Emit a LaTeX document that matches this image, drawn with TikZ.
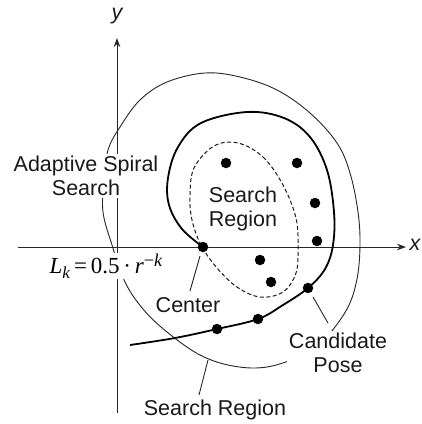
\documentclass[tikz,border=0pt]{standalone}
\usepackage{fontspec}
\setmainfont{Liberation Sans}
\newfontfamily\tnr{Liberation Serif}
\usetikzlibrary{arrows.meta}
\newcommand\lkformula{{\tnr\fontsize{23}{25}\selectfont\textit{L}\raisebox{-5pt}{\fontsize{17}{17}\selectfont\textit{k}}\,=\,0.5\,·\,\textit{r}\raisebox{7pt}{\fontsize{18}{18}\selectfont −\textit{k}}}}
\begin{document}
\begin{tikzpicture}[x=1pt,y=-1pt,
  thinline/.style={line width=0.9pt, black!85},
  axis/.style={line width=0.9pt, black!85, -{Stealth[length=9pt,width=6.5pt]}},
  spiral/.style={line width=1.8pt, black},
  dot/.style={circle, fill=black, inner sep=0pt, minimum size=10.5pt},
  lbl/.style={font=\fontsize{21.5}{24.5}\selectfont, align=center, inner sep=1.5pt, text=black!90},
  wlbl/.style={lbl, fill=white},
]
\useasboundingbox (0,0) rectangle (422,424);
% axes
\coordinate (xs) at (18,247); \coordinate (xe) at (406,247);
\coordinate (ys) at (117,413); \coordinate (ye) at (117,38);
\draw[axis] (xs) -- (xe);
\draw[axis] (ys) -- (ye);
\node[lbl, font=\fontsize{21.5}{25}\selectfont\itshape] (ylab) at (117,16) {y};
\node[lbl, font=\fontsize{21.5}{25}\selectfont\itshape] (xlab) at (415,245) {x};
% outer search region
\draw[thinline] plot[smooth cycle, tension=0.6] coordinates {(205,73) (240,77) (277,90) (310,113) (337,143) (350,173) (358,212) (360,245) (357,279) (347,309) (324,340) (303,355) (267,367) (233,366) (200,355) (167,332) (143,309) (125,282) (112,245) (103,212) (104,180) (108,150) (120,127) (140,100) (167,82)};
% inner dashed search region
\draw[thinline, line width=1pt, black!90, dash pattern=on 4pt off 2.5pt] plot[smooth cycle, tension=0.6] coordinates {(238,143) (263,157) (283,185) (296,218) (298,247) (296,273) (283,292) (260,297) (237,287) (217,268) (201,245) (192,220) (190,196) (194,168) (214,146)};
% spiral
\draw[spiral] plot[smooth, tension=0.6] coordinates {(203,247) (182,229) (169,205) (168,178) (178,147) (201,123) (247,112) (284,118) (310,137) (327,170) (334,212) (333,245) (325,269) (308,288) (283,305) (258,319) (217,329) (175,338) (130,345)};
% labels
\node[wlbl] (ass) at (86,176) {Adaptive Spiral\\Search};
\node[lbl] (sr) at (243,209) {Search\\Region};
\node[lbl] (cen) at (188,305) {Center};
\node[wlbl] (cp) at (338,353) {Candidate\\Pose};
\node[wlbl] (srb) at (215,410) {Search Region};
\node[fill=white, inner sep=1pt] (lk) at (106,266) {\lkformula};
% dots
\node[dot] (d0) at (203,247) {};
\node[dot] (d1) at (226,163) {};
\node[dot] (d2) at (297,163) {};
\node[dot] (d3) at (315,203) {};
\node[dot] (d4) at (317,241) {};
\node[dot] (d5) at (260,260) {};
\node[dot] (d6) at (271,282) {};
\node[dot] (d7) at (308,288) {};
\node[dot] (d8) at (258,319) {};
\node[dot] (d9) at (217,329) {};
% leaders
\coordinate (c1) at (200,256); \coordinate (c2) at (190,291);
\draw[thinline] (c1) -- (c2);
\coordinate (p1) at (313,297); \coordinate (p2) at (328,323);
\draw[thinline] (p1) -- (p2);
\coordinate (s1) at (208,360); \coordinate (s2) at (199,395);
\draw[thinline] (s1) -- (s2);
\end{tikzpicture}
\end{document}
